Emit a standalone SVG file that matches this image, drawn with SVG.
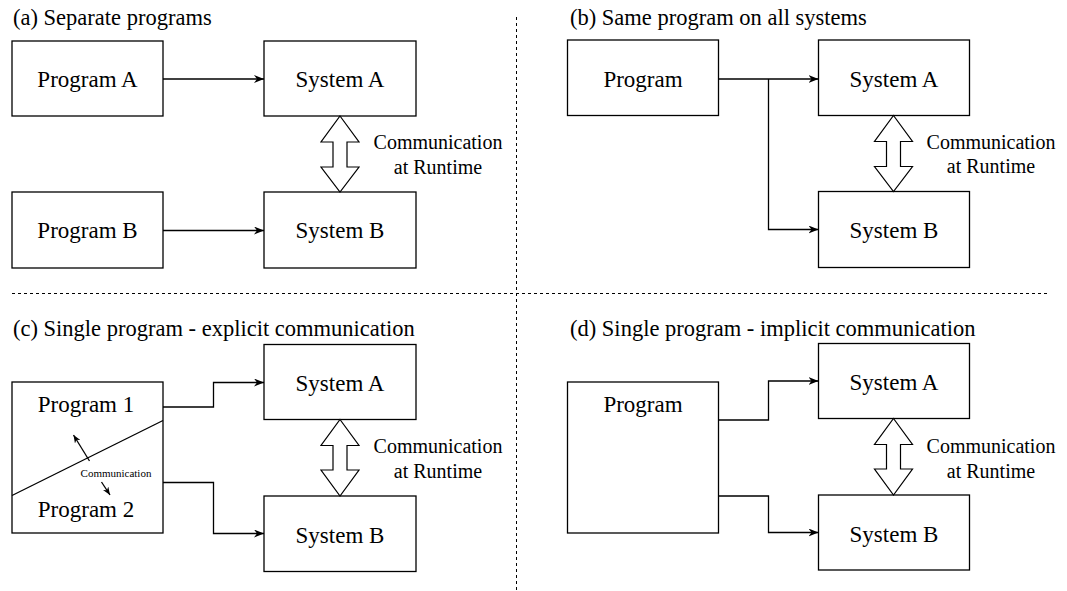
<svg xmlns="http://www.w3.org/2000/svg" width="1067" height="591" viewBox="0 0 1067 591" font-family="'Liberation Serif', 'Times New Roman', Times, serif">
<defs>
<style>
.box{fill:#fff;stroke:#000;stroke-width:1.3}
text{font-family:'Liberation Serif','Times New Roman',Times,serif;fill:#000}
.lbl{font-size:23px;text-anchor:middle}
.title{font-size:22.5px}
.com{font-size:20px;text-anchor:middle}
.small{font-size:11px;text-anchor:middle}
.con{fill:none;stroke:#000;stroke-width:1.3}
.dbl{fill:#fff;stroke:#000;stroke-width:1.2;stroke-linejoin:miter}
.dash{fill:none;stroke:#000;stroke-width:1;stroke-dasharray:3 3}
</style>
<marker id="ah" viewBox="0 0 10 8" refX="10" refY="4" markerWidth="10" markerHeight="8" markerUnits="userSpaceOnUse" orient="auto">
<path d="M0,0 L10,4 L0,8 L3,4 Z" fill="#000"/>
</marker>
<marker id="ahs" viewBox="0 0 10 8" refX="10" refY="4" markerWidth="8" markerHeight="6.5" markerUnits="userSpaceOnUse" orient="auto">
<path d="M0,0 L10,4 L0,8 L3,4 Z" fill="#000"/>
</marker>
</defs>

<g id="separators">
<line class="dash" x1="516.5" y1="17" x2="516.5" y2="591"/>
<line class="dash" x1="12" y1="293.5" x2="1047" y2="293.5"/>
</g>

<g id="titles">
<text class="title" x="13" y="25">(a) Separate programs</text>
<text class="title" x="570" y="25">(b) Same program on all systems</text>
<text class="title" x="13" y="336">(c) Single program - explicit communication</text>
<text class="title" x="570" y="336">(d) Single program - implicit communication</text>
</g>

<!-- Panel (a) -->
<g id="a-programA"><rect class="box" x="12" y="41" width="151" height="75"/><text class="lbl" x="87.5" y="87">Program A</text></g>
<g id="a-systemA"><rect class="box" x="264" y="41" width="152" height="75"/><text class="lbl" x="340" y="87">System A</text></g>
<g id="a-programB"><rect class="box" x="12" y="192" width="151" height="76"/><text class="lbl" x="87.5" y="238">Program B</text></g>
<g id="a-systemB"><rect class="box" x="264" y="192" width="152" height="76"/><text class="lbl" x="340" y="238">System B</text></g>

<!-- Panel (b) -->
<g id="b-program"><rect class="box" x="567.5" y="40" width="151" height="75.5"/><text class="lbl" x="643" y="87">Program</text></g>
<g id="b-systemA"><rect class="box" x="818.5" y="40" width="151" height="75.5"/><text class="lbl" x="894" y="87">System A</text></g>
<g id="b-systemB"><rect class="box" x="818.5" y="191.5" width="151" height="76"/><text class="lbl" x="894" y="238">System B</text></g>

<!-- Panel (c) -->
<g id="c-program"><rect class="box" x="12" y="382" width="151" height="151"/>
<line class="con" x1="12" y1="495.5" x2="163" y2="420.5"/>
<text class="lbl" x="86" y="411.5">Program 1</text>
<text class="lbl" x="86" y="517">Program 2</text>
<text class="small" x="116" y="476.5">Communication</text>
<line class="con" x1="89.5" y1="461" x2="73.5" y2="435" marker-end="url(#ahs)"/>
<line class="con" x1="101.5" y1="482" x2="110" y2="495" marker-end="url(#ahs)"/>
</g>
<g id="c-systemA"><rect class="box" x="264" y="344.5" width="152" height="75"/><text class="lbl" x="340" y="391">System A</text></g>
<g id="c-systemB"><rect class="box" x="264" y="496" width="152" height="75.5"/><text class="lbl" x="340" y="542.5">System B</text></g>

<!-- Panel (d) -->
<g id="d-program"><rect class="box" x="567.5" y="382" width="151" height="151"/><text class="lbl" x="643" y="411.5">Program</text></g>
<g id="d-systemA"><rect class="box" x="818.5" y="343.5" width="151" height="75"/><text class="lbl" x="894" y="390">System A</text></g>
<g id="d-systemB"><rect class="box" x="818.5" y="495" width="151" height="75"/><text class="lbl" x="894" y="541.5">System B</text></g>

<g id="connectors">
<line class="con" x1="163" y1="79" x2="264" y2="79" marker-end="url(#ah)"/>
<line class="con" x1="163" y1="230.5" x2="264" y2="230.5" marker-end="url(#ah)"/>
<line class="con" x1="718.5" y1="79" x2="818.5" y2="79" marker-end="url(#ah)"/>
<polyline class="con" points="768.5,79 768.5,229.5 818.5,229.5" marker-end="url(#ah)"/>
<polyline class="con" points="163,407 213.5,407 213.5,382.5 264,382.5" marker-end="url(#ah)"/>
<polyline class="con" points="163,482.5 213.5,482.5 213.5,533.5 264,533.5" marker-end="url(#ah)"/>
<polyline class="con" points="718.5,420 768.5,420 768.5,381 818.5,381" marker-end="url(#ah)"/>
<polyline class="con" points="718.5,496 768.5,496 768.5,532.5 818.5,532.5" marker-end="url(#ah)"/>
</g>

<g id="runtime-comm">
<path class="dbl" d="M340,116 L359,142 L347,142 L347,167 L359,167 L340,192 L321,167 L333,167 L333,142 L321,142 Z"/>
<text class="com" x="438" y="149">Communication</text>
<text class="com" x="438" y="173.5">at Runtime</text>
<path class="dbl" d="M893.5,115.5 L912.5,141.5 L900.5,141.5 L900.5,166.5 L912.5,166.5 L893.5,191.5 L874.5,166.5 L886.5,166.5 L886.5,141.5 L874.5,141.5 Z"/>
<text class="com" x="991" y="148.5">Communication</text>
<text class="com" x="991" y="173">at Runtime</text>
<path class="dbl" d="M340,419.5 L359,445.5 L347,445.5 L347,470 L359,470 L340,496 L321,470 L333,470 L333,445.5 L321,445.5 Z"/>
<text class="com" x="438" y="453">Communication</text>
<text class="com" x="438" y="477.5">at Runtime</text>
<path class="dbl" d="M893.5,418.5 L912.5,444.5 L900.5,444.5 L900.5,469 L912.5,469 L893.5,495 L874.5,469 L886.5,469 L886.5,444.5 L874.5,444.5 Z"/>
<text class="com" x="991" y="453">Communication</text>
<text class="com" x="991" y="477.5">at Runtime</text>
</g>
</svg>
